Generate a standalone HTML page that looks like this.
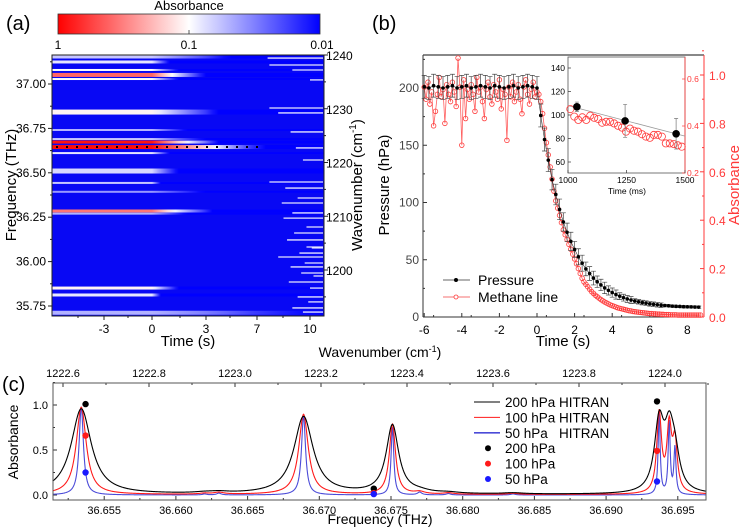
<!DOCTYPE html>
<html><head><meta charset="utf-8"><style>
html,body{margin:0;padding:0;background:#fff;}
svg{display:block;font-family:"Liberation Sans",Arial,sans-serif;}
</style></head><body>
<svg id="fig" width="742" height="530" viewBox="0 0 742 530" xmlns="http://www.w3.org/2000/svg">
<defs id="defs"></defs>
<text x="6" y="30" font-size="20">(a)</text>
<text x="372" y="30" font-size="20">(b)</text>
<text x="2" y="391" font-size="20">(c)</text>
<g id="pa"></g>
<g id="pb"></g>
<g id="pc"></g>
</svg>
<script>
// ---------------- Panel (a) data ----------------
const bandFreq = [37.152, 37.124, 37.079, 37.051, 37.028, 36.842, 36.741, 36.690, 36.673, 36.645, 36.611, 36.510, 36.443, 36.393, 36.285, 36.270, 35.851, 35.812, 35.712];
const bandAbs  = [0.06, 0.08, 0.10, 0.40, 0.10, 0.11, 0.05, 0.06, 0.85, 0.90, 0.08, 0.07, 0.06, 0.04, 0.35, 0.05, 0.11, 0.08, 0.05];
const bandEnd  = [5.0, 1.0, 1.5, 3.0, 1.5, 4.0, 2.0, 3.0, 4.0, 7.5, 1.0, 1.5, 0.5, 3.0, 3.5, 2.0, 1.5, 0.5, 11];
const bandLw   = [3, 3, 2, 4, 2, 5, 2, 2, 3, 4, 2, 5, 2, 2, 3, 2, 3, 3, 4];
const streakFreq  = [37.146, 37.107, 37.079, 37.023, 36.865, 36.837, 36.730, 36.640, 36.572, 36.448, 36.414, 36.358, 36.330, 36.274, 36.245, 36.195, 36.161, 36.122, 36.082, 36.077, 36.048, 36.026, 35.992, 35.970, 35.936, 35.919, 35.885, 35.851, 35.801, 35.773, 35.739, 35.716];
const streakStart = [7.6, 7.7, 9.0, 10.0, 7.7, 8.2, 8.9, 9.2, 9.6, 7.7, 8.6, 9.3, 8.4, 9.0, 8.5, 9.8, 9.1, 8.7, 9.8, 10.1, 9.4, 8.2, 9.7, 8.9, 9.5, 10.2, 8.8, 10.0, 9.3, 9.9, 9.0, 9.6];
const tTicksA = [-3, 0, 3, 7, 10];
const fTicksA = ["37.00", "36.75", "36.50", "36.25", "36.00", "35.75"];
const wTicksA = [1240, 1230, 1220, 1210, 1200];

// ---------------- Panel (b) data ----------------
const presT = [-6,-5.75,-5.5,-5.25,-5,-4.75,-4.5,-4.25,-4,-3.75,-3.5,-3.25,-3,-2.75,-2.5,-2.25,-2,-1.75,-1.5,-1.25,-1,-0.75,-0.5,-0.25,
  0,0.2,0.4,0.6,0.8,1.0,1.2,1.4,1.6,1.8,2.0,2.2,2.4,2.6,2.8,3.0,3.2,3.4,3.6,3.8,4.0,4.2,4.4,4.6,4.8,5.0,5.2,5.4,5.6,5.8,6.0,6.2,6.4,6.6,6.8,7.0,7.2,7.4,7.6,7.8,8.0,8.2,8.4,8.6];
const presVal = [201,200,202,201,200,201,202,200,201,202,200,201,202,201,200,202,201,200,201,202,200,201,202,201,
  200,176,155,137,120,107,94,83,74,66,59,52.6,47,42,38,34,30.8,28,25.4,23.2,21.3,19.6,18.2,16.9,15.8,14.8,14.0,13.3,12.6,12.1,11.5,11.1,10.7,10.3,10.0,9.8,9.5,9.3,9.2,9.0,8.9,8.8,8.7,8.6];
const presErr = [10,10,10,10,10,10,10,10,10,10,10,10,10,10,10,10,10,10,10,10,10,10,10,10,
  10,10,10,10,9,9,9,8,8,8,7,7,7,6,6,6,5,5,5,4,4,4,3,3,3,3,2,2,2,2,2,2,2,2,1,1,1,1,1,1,1,1,1,1];
const methPre = [0.95,0.90,0.97,0.88,0.93,0.79,0.85,0.92,0.99,0.91,0.94,0.80,0.96,0.92,0.89,0.97,0.93,0.87,1.07,0.95,0.71,0.98,0.82,0.94,0.90,0.96,0.92,0.85,0.99,0.93,0.95,0.89,0.82,0.94,0.97,0.91,0.88,0.96,0.93,0.90,0.98,0.86,0.94,0.92,0.73,0.95,0.91,0.97,0.89,0.93,0.96,0.90,0.84,0.95,0.98,0.92,0.88,0.94,0.97,0.91];
const methPost = [0.93,0.92,0.89,0.84,0.78,0.72,0.67,0.62,0.57,0.52,0.48,0.45,0.42,0.39,0.36,0.34,0.32,0.30,0.28,0.26,0.24,0.22,0.20,0.18,0.16,0.145,0.135,0.125,0.115,0.105,0.098,0.09,0.084,0.078,0.072,0.067,0.062,0.058,0.054,0.05,0.047,0.044,0.041,0.038,0.036,0.034,0.032,0.030,0.028,0.026,0.025,0.023,0.022,0.021,0.020,0.019,0.018,0.017,0.016,0.015,0.014,0.014,0.013,0.013,0.012,0.012,0.011,0.011,0.010,0.010,0.010,0.009,0.009,0.009,0.009,0.008,0.008,0.008,0.008,0.008,0.008,0.008,0.008,0.008,0.008,0.008,0.008,0.008];
const insetPT = [1038, 1244, 1462];
const insetPV = [107, 95, 84];
const insetPE = [4, 14, 13];
const insetFit = [108, 82];
const insetRed = [0.472,0.44,0.426,0.437,0.426,0.444,0.435,0.43,0.414,0.418,0.418,0.411,0.401,0.393,0.376,0.389,0.38,0.376,0.365,0.355,0.35,0.362,0.362,0.355,0.326,0.326,0.323,0.318,0.312];
const xTicksB = [-6,-4,-2,0,2,4,6,8];
const yTicksB = [0,50,100,150,200];
const aTicksB = ["0.0","0.2","0.4","0.6","0.8","1.0"];

// ---------------- Panel (c) data ----------------
const lineCenter = [36.6534, 36.6620, 36.6630, 36.6689, 36.6751, 36.6770, 36.6790, 36.6835, 36.6937, 36.6944, 36.6948];
const lineWidthF = [1, 1, 1, 0.95, 0.62, 1, 1, 1, 0.47, 0.47, 0.47];
const amp200 = [0.95, 0.010, 0.015, 0.86, 0.76, 0.020, 0.012, 0.012, 0.75, 0.58, 0.33];
const amp100 = [0.97, 0.010, 0.020, 0.89, 0.78, 0.025, 0.015, 0.012, 0.88, 0.70, 0.54];
const amp50  = [0.98, 0.010, 0.020, 0.88, 0.76, 0.030, 0.015, 0.012, 0.90, 0.80, 0.52];
const seriesWidth = [0.00085, 0.00042, 0.00018];
const seriesBase = [0.005, 0.005, 0.0];
const dotFreq = [36.6537, 36.6738, 36.69355];
const dot200 = [1.01, 0.07, 1.04];
const dot100 = [0.66, 0.02, 0.49];
const dot50  = [0.25, 0.01, 0.15];
const fTicksC = [36.655, 36.660, 36.665, 36.670, 36.675, 36.680, 36.685, 36.690, 36.695];
const wTicksC = [1222.6, 1222.8, 1223.0, 1223.2, 1223.4, 1223.6, 1223.8, 1224.0];
const aTicksC = [0, 0.5, 1.0];

// ---------------- helpers ----------------
const NS = 'http://www.w3.org/2000/svg';
function mk(tag, attrs, parent, text) {
  const el = document.createElementNS(NS, tag);
  for (const k in attrs) el.setAttribute(k, attrs[k]);
  if (text !== undefined) el.textContent = text;
  parent.appendChild(el);
  return el;
}
function cmap(a) {
  let p = -Math.log10(a); p = Math.max(0, Math.min(2, p));
  let r, g, b;
  if (p < 1) { r = 255; g = 255 * p; b = 255 * p; }
  else { const t = p - 1; r = 255 * (1 - t); g = 255 * (1 - t); b = 255; }
  return 'rgb(' + Math.round(r) + ',' + Math.round(g) + ',' + Math.round(b) + ')';
}
const defs = document.getElementById('defs');

// ================= Panel (a) =================
const pa = document.getElementById('pa');
const aL = 52, aR = 324, aT = 55, aB = 316;
const fY = f => 84 + (37.00 - f) * 177.6;
const wY = w => 55 + (1240 - w) * 5.375;
const tKnots = [-6.25, -3, 0, 3, 7, 10, 10.8];
const xKnots = [52, 104, 152, 206, 257, 310, 324];
function tX(t) {
  if (t <= tKnots[0]) return xKnots[0];
  for (let i = 1; i < tKnots.length; i++) {
    if (t <= tKnots[i]) return xKnots[i-1] + (t - tKnots[i-1]) / (tKnots[i] - tKnots[i-1]) * (xKnots[i] - xKnots[i-1]);
  }
  return xKnots[xKnots.length-1];
}
const cbg = mk('linearGradient', {id: 'cbgrad', x1: '0', x2: '1', y1: '0', y2: '0'}, defs);
for (let i = 0; i <= 20; i++) mk('stop', {offset: (i/20), 'stop-color': cmap(Math.pow(10, -2*i/20))}, cbg);
let el = mk('rect', {x: 58, y: 14, width: 262, height: 20, fill: 'url(#cbgrad)', stroke: '#333', 'stroke-width': 0.8}, pa);


el = mk('text', {x: 189, y: 10, 'font-size': 13, 'text-anchor': 'middle'}, pa, 'Absorbance');


[['1', 58], ['0.1', 189], ['0.01', 322]].forEach(function (d) {
  const t = mk('text', {x: d[1], y: 49, 'font-size': 12, 'text-anchor': 'middle'}, pa, d[0]);
  
  
});
mk('line', {x1: 189, x2: 189, y1: 30, y2: 34, stroke: '#333', 'stroke-width': 0.8}, pa);
el = mk('rect', {x: aL, y: aT, width: aR - aL, height: aB - aT, fill: '#0808f4'}, pa);


bandFreq.forEach(function (f, i) {
  const id = 'bg' + i;
  const g = mk('linearGradient', {id: id, gradientUnits: 'userSpaceOnUse', x1: aL, x2: aR, y1: 0, y2: 0}, defs);
  const a0 = bandAbs[i], te = bandEnd[i];
  const la = Math.log10(a0);
  mk('stop', {offset: 0, 'stop-color': cmap(a0)}, g);
  const x0 = tX(0);
  mk('stop', {offset: Math.min(1, (x0 - aL) / (aR - aL)), 'stop-color': cmap(a0)}, g);
  for (let k = 1; k <= 8; k++) {
    const t = te * k / 8;
    const a = Math.pow(10, la + (-2.05 - la) * k / 8);
    mk('stop', {offset: Math.min(1, (tX(t) - aL) / (aR - aL)), 'stop-color': cmap(a)}, g);
  }
  const r = mk('rect', {x: aL, y: fY(f) - bandLw[i] / 2, width: aR - aL, height: bandLw[i], fill: 'url(#' + id + ')'}, pa);
  
  
});
streakFreq.forEach(function (f, i) {
  const l = mk('line', {x1: tX(streakStart[i]), x2: aR - 1, y1: fY(f), y2: fY(f), stroke: 'rgba(240,240,255,0.95)', 'stroke-width': 1.3}, pa);
  
  
});
el = mk('line', {x1: aL + 4, x2: tX(7.5), y1: fY(36.645), y2: fY(36.645), stroke: '#000', 'stroke-width': 2, 'stroke-dasharray': '2 8'}, pa);


el = mk('rect', {x: aL, y: aT, width: aR - aL, height: aB - aT, fill: 'none', stroke: '#222', 'stroke-width': 1}, pa);


fTicksA.forEach(function (s) {
  const y = fY(parseFloat(s));
  mk('line', {x1: aL - 4, x2: aL, y1: y, y2: y, stroke: '#222'}, pa);
  const t = mk('text', {x: aL - 6, y: y + 4, 'font-size': 12, 'text-anchor': 'end'}, pa, s);
  
  
  const ym = fY(parseFloat(s) + 0.125);
  if (ym > aT) mk('line', {x1: aL - 2, x2: aL, y1: ym, y2: ym, stroke: '#222'}, pa);
});
wTicksA.forEach(function (w) {
  const y = wY(w);
  mk('line', {x1: aR, x2: aR + 4, y1: y, y2: y, stroke: '#222'}, pa);
  const t = mk('text', {x: aR + 2, y: y + 5, 'font-size': 12}, pa, String(w));
  
  
  const ym = wY(w - 5);
  if (ym < aB) mk('line', {x1: aR, x2: aR + 2, y1: ym, y2: ym, stroke: '#222'}, pa);
});
tTicksA.forEach(function (tv) {
  const x = tX(tv);
  mk('line', {x1: x, x2: x, y1: aB, y2: aB + 4, stroke: '#222'}, pa);
  const t = mk('text', {x: x, y: aB + 17, 'font-size': 12, 'text-anchor': 'middle'}, pa, String(tv));
  
  
});
[78, 128, 180, 230, 283].forEach(function (x) { mk('line', {x1: x, x2: x, y1: aB, y2: aB + 2, stroke: '#222'}, pa); });
el = mk('text', {x: 188, y: 346, 'font-size': 15, 'text-anchor': 'middle'}, pa, 'Time (s)');


el = mk('text', {x: 0, y: 0, 'font-size': 15, 'text-anchor': 'middle', transform: 'translate(16,185) rotate(-90)'}, pa, 'Frequency (THz)');


el = mk('text', {x: 0, y: 0, 'font-size': 15, 'text-anchor': 'middle', transform: 'translate(362,185) rotate(-90)'}, pa);


el.innerHTML = 'Wavenumber (cm<tspan dy="-6" font-size="10">-1</tspan><tspan dy="6">)</tspan>';

// ================= Panel (b) =================
const pb = document.getElementById('pb');
const bL = 423, bR = 704, bT = 55, bB = 317;
const bX = t => 537 + t * 18.8;
const bYP = p => 317 - p * 1.145;
const bYA = a => 317 - a * 242;
const RED = '#ff3a3a';
mk('line', {x1: bL, x2: bR, y1: bT, y2: bT, stroke: '#888', 'stroke-width': 2}, pb);
mk('line', {x1: bL, x2: bL, y1: bT, y2: bB, stroke: '#333', 'stroke-width': 1}, pb);
mk('line', {x1: bL, x2: bR, y1: bB, y2: bB, stroke: '#333', 'stroke-width': 1}, pb);
mk('line', {x1: bR, x2: bR, y1: bT, y2: bB, stroke: RED, 'stroke-width': 1}, pb);
xTicksB.forEach(function (tv) {
  const x = bX(tv);
  mk('line', {x1: x, x2: x, y1: bB, y2: bB - 4, stroke: '#333'}, pb);
  mk('line', {x1: x + 9.4, x2: x + 9.4, y1: bB, y2: bB - 2, stroke: '#333'}, pb);
  const t = mk('text', {x: x, y: bB + 17, 'font-size': 12, 'text-anchor': 'middle'}, pb, String(tv));
  
  
});
yTicksB.forEach(function (p) {
  const y = bYP(p);
  mk('line', {x1: bL, x2: bL + 4, y1: y, y2: y, stroke: '#333'}, pb);
  mk('line', {x1: bL, x2: bL + 2, y1: bYP(p + 25), y2: bYP(p + 25), stroke: '#333'}, pb);
  const t = mk('text', {x: bL - 4, y: y + 4, 'font-size': 12, 'text-anchor': 'end', fill: '#444'}, pb, String(p));
  
  
});
aTicksB.forEach(function (s) {
  const a = parseFloat(s), y = bYA(a);
  mk('line', {x1: bR - 4, x2: bR, y1: y, y2: y, stroke: RED}, pb);
  mk('line', {x1: bR - 2, x2: bR, y1: bYA(a + 0.1), y2: bYA(a + 0.1), stroke: RED}, pb);
  const t = mk('text', {x: bR + 5, y: y + 5, 'font-size': 12, fill: RED}, pb, s);
  
  
});
el = mk('text', {x: 563, y: 346, 'font-size': 15, 'text-anchor': 'middle'}, pb, 'Time (s)');


el = mk('text', {x: 0, y: 0, 'font-size': 15, 'text-anchor': 'middle', transform: 'translate(389,185) rotate(-90)'}, pb, 'Pressure (hPa)');


el = mk('text', {x: 0, y: 0, 'font-size': 15, 'text-anchor': 'middle', fill: RED, transform: 'translate(739,185) rotate(-90)'}, pb, 'Absorbance');


const mT = [], mV = [];
methPre.forEach(function (v, i) { mT.push(-6 + i * 0.1); mV.push(v); });
methPost.forEach(function (v, i) { mT.push(i * 0.1); mV.push(v); });
let d = '';
mT.forEach(function (t, i) { d += (i ? 'L' : 'M') + bX(t).toFixed(1) + ',' + bYA(mV[i]).toFixed(1); });
el = mk('path', {d: d, fill: 'none', stroke: RED, 'stroke-width': 0.8, opacity: 0.8}, pb);


mT.forEach(function (t, i) {
  const c = mk('circle', {cx: bX(t), cy: bYA(mV[i]), r: 2.3, fill: 'none', stroke: RED, 'stroke-width': 0.8}, pb);
  
  
});
d = '';
presT.forEach(function (t, i) { d += (i ? 'L' : 'M') + bX(t).toFixed(1) + ',' + bYP(presVal[i]).toFixed(1); });
mk('path', {d: d, fill: 'none', stroke: '#333', 'stroke-width': 0.6}, pb);
presT.forEach(function (t, i) {
  const x = bX(t), y1 = bYP(presVal[i] + presErr[i]), y2 = bYP(presVal[i] - presErr[i]);
  const e = mk('path', {d: 'M' + x + ',' + y1 + 'V' + y2 + 'M' + (x - 2.5) + ',' + y1 + 'h5M' + (x - 2.5) + ',' + y2 + 'h5', stroke: '#444', 'stroke-width': 0.7, fill: 'none'}, pb);
  
  
  const c = mk('circle', {cx: x, cy: bYP(presVal[i]), r: 1.8, fill: '#000'}, pb);
  
  
});
el = mk('g', {}, pb);


mk('line', {x1: 443, x2: 470, y1: 280, y2: 280, stroke: '#333', 'stroke-width': 0.8}, el);
mk('circle', {cx: 456, cy: 280, r: 2, fill: '#000'}, el);
mk('text', {x: 478, y: 285, 'font-size': 14}, el, 'Pressure');
mk('line', {x1: 443, x2: 470, y1: 297, y2: 297, stroke: '#f8a0a0', 'stroke-width': 1.5}, el);
mk('circle', {cx: 456, cy: 297, r: 2, fill: '#fff', stroke: RED, 'stroke-width': 0.8}, el);
mk('text', {x: 478, y: 302, 'font-size': 14}, el, 'Methane line');
const iL = 568, iR = 685, iT = 57, iB = 173;
const iX = t => iL + (t - 1000) * 0.234;
const iYP = p => 162 - (p - 60) * 1.175;
const iYA = a => 173 - (a - 0.2) * 235;
el = mk('rect', {x: iL, y: iT, width: iR - iL, height: iB - iT, fill: '#fff', stroke: '#555', 'stroke-width': 0.8}, pb);


mk('line', {x1: iR, x2: iR, y1: iT, y2: iB, stroke: RED, 'stroke-width': 0.8}, pb);
[60, 80, 100, 120, 140].forEach(function (p) {
  mk('line', {x1: iL, x2: iL + 3, y1: iYP(p), y2: iYP(p), stroke: '#333', 'stroke-width': 0.7}, pb);
  const t = mk('text', {x: iL - 3, y: iYP(p) + 3, 'font-size': 8.5, 'text-anchor': 'end'}, pb, String(p));
  
  
});
[0.2, 0.4, 0.6].forEach(function (a) {
  mk('line', {x1: iR - 3, x2: iR, y1: iYA(a), y2: iYA(a), stroke: RED, 'stroke-width': 0.7}, pb);
  const t = mk('text', {x: iR + 2, y: iYA(a) + 3, 'font-size': 8.5, fill: RED}, pb, a.toFixed(1));
  
  
});
[1000, 1250, 1500].forEach(function (tv) {
  mk('line', {x1: iX(tv), x2: iX(tv), y1: iB, y2: iB - 3, stroke: '#333', 'stroke-width': 0.7}, pb);
  const t = mk('text', {x: iX(tv), y: iB + 10, 'font-size': 8.5, 'text-anchor': 'middle'}, pb, String(tv));
  
  
});
el = mk('text', {x: 627, y: 194, 'font-size': 8.5, 'text-anchor': 'middle'}, pb, 'Time (ms)');


el = mk('line', {x1: iX(1000), x2: iX(1500), y1: iYP(insetFit[0]), y2: iYP(insetFit[1]), stroke: '#999', 'stroke-width': 0.8}, pb);


insetRed.forEach(function (a, i) {
  const c = mk('circle', {cx: iX(1010 + i * 17), cy: iYA(a), r: 3.6, fill: 'none', stroke: RED, 'stroke-width': 0.8}, pb);
  
  
});
insetPT.forEach(function (t, i) {
  const x = iX(t), y1 = iYP(insetPV[i] + insetPE[i]), y2 = iYP(insetPV[i] - insetPE[i]);
  mk('path', {d: 'M' + x + ',' + y1 + 'V' + y2 + 'M' + (x - 2) + ',' + y1 + 'h4M' + (x - 2) + ',' + y2 + 'h4', stroke: '#777', 'stroke-width': 0.7, fill: 'none'}, pb);
  const c = mk('circle', {cx: x, cy: iYP(insetPV[i]), r: 3.8, fill: '#000'}, pb);
  
  
});

// ================= Panel (c) =================
const pc = document.getElementById('pc');
const cL = 53, cR = 706, cT = 383, cB = 500;
const cX = f => 391 + (f - 36.675) * 14340;
const cY = a => 495 - a * 90;
const wX = w => 63 + (w - 1222.6) / 0.2 * 86;
el = mk('text', {x: 380, y: 357, 'font-size': 14, 'text-anchor': 'middle'}, pc);


el.innerHTML = 'Wavenumber (cm<tspan dy="-5" font-size="9">-1</tspan><tspan dy="5">)</tspan>';
wTicksC.forEach(function (w) {
  const x = wX(w);
  mk('line', {x1: x, x2: x, y1: cT, y2: cT + 4, stroke: '#333'}, pc);
  mk('line', {x1: x + 43, x2: x + 43, y1: cT, y2: cT + 2, stroke: '#333'}, pc);
  const t = mk('text', {x: x, y: 377, 'font-size': 11, 'text-anchor': 'middle'}, pc, w.toFixed(1));
  
  
});
fTicksC.forEach(function (f) {
  const x = cX(f);
  mk('line', {x1: x, x2: x, y1: cB, y2: cB - 4, stroke: '#333'}, pc);
  mk('line', {x1: x - 36, x2: x - 36, y1: cB, y2: cB - 2, stroke: '#333'}, pc);
  const t = mk('text', {x: x, y: cB + 14, 'font-size': 11, 'text-anchor': 'middle'}, pc, f.toFixed(3));
  
  
});
aTicksC.forEach(function (a) {
  const y = cY(a);
  mk('line', {x1: cL, x2: cL + 4, y1: y, y2: y, stroke: '#333'}, pc);
  mk('line', {x1: cL, x2: cL + 2, y1: cY(a + 0.25), y2: cY(a + 0.25), stroke: '#333'}, pc);
  const t = mk('text', {x: cL - 5, y: y + 4, 'font-size': 11, 'text-anchor': 'end'}, pc, a.toFixed(1));
  
  
});
el = mk('text', {x: 380, y: 524, 'font-size': 14, 'text-anchor': 'middle'}, pc, 'Frequency (THz)');


el = mk('text', {x: 0, y: 0, 'font-size': 14, 'text-anchor': 'middle', transform: 'translate(18,442) rotate(-90)'}, pc, 'Absorbance');


const amps = [amp200, amp100, amp50];
const cols = ['#000', '#ff1a1a', '#4b4bd8'];
const names = ['hitran-200hpa-curve', 'hitran-100hpa-curve', 'hitran-50hpa-curve'];
const f0 = 36.6514, f1 = 36.6970;
[2, 1, 0].forEach(function (s) {
  let dd = '';
  for (let k = 0; k <= 1300; k++) {
    const f = f0 + (f1 - f0) * k / 1300;
    let a = seriesBase[s];
    lineCenter.forEach(function (c, j) {
      const g = seriesWidth[s] * lineWidthF[j];
      a += amps[s][j] * g * g / (g * g + (f - c) * (f - c));
    });
    dd += (k ? 'L' : 'M') + cX(f).toFixed(2) + ',' + cY(a).toFixed(2);
  }
  const p = mk('path', {d: dd, fill: 'none', stroke: cols[s], 'stroke-width': 1.1}, pc);
  
  
});
const dots = [dot200, dot100, dot50];
const dcols = ['#000', '#ff1a1a', '#1a1aff'];
dots.forEach(function (arr, s) {
  arr.forEach(function (v, i) {
    const c = mk('circle', {cx: cX(dotFreq[i]), cy: cY(v), r: 3.2, fill: dcols[s]}, pc);
    
    
  });
});
el = mk('rect', {x: cL, y: cT, width: cR - cL, height: cB - cT, fill: 'none', stroke: '#555', 'stroke-width': 1}, pc);


const lg = mk('g', {}, pc);


const lgText = ['200 hPa HITRAN', '100 hPa HITRAN', '50 hPa   HITRAN', '200 hPa', '100 hPa', '50 hPa'];
const lgCol = ['#000', '#ff1a1a', '#4b4bd8', '#000', '#ff1a1a', '#1a1aff'];
lgText.forEach(function (s, i) {
  const y = 402 + i * 15.4;
  if (i < 3) mk('line', {x1: 474, x2: 500, y1: y, y2: y, stroke: lgCol[i], 'stroke-width': i == 2 ? 1.6 : 1}, lg);
  else mk('circle', {cx: 488, cy: y, r: 3, fill: lgCol[i]}, lg);
  const t = mk('text', {x: 505, y: y + 5, 'font-size': 13.5, style: 'white-space:pre'}, lg, s);
  
  
});
</script>
</body></html>
